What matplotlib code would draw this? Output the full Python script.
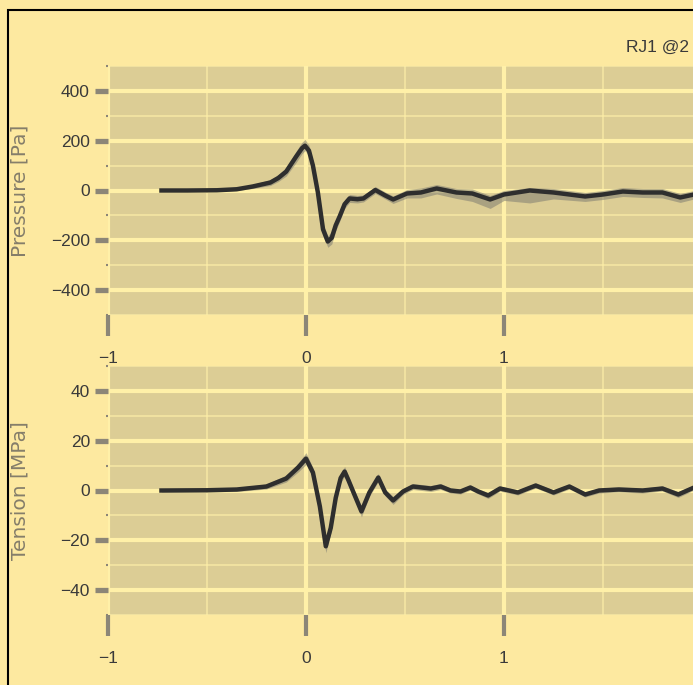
import matplotlib
matplotlib.use('Agg')
import matplotlib.pyplot as plt
from matplotlib.patches import Rectangle
from matplotlib.ticker import MultipleLocator, FixedLocator

FIG_BG = '#fde9a0'
AX_BG = '#dccd95'
GRID = '#fff0a8'
TICK = '#8c8677'
LABEL = '#857e6a'
TEXT = '#3a3a3a'
NARROW = ['Liberation Sans', 'DejaVu Sans']

# pressure trace (mean) and spread of the individual runs, time in s
p_time = [-0.73, -0.6, -0.45, -0.35, -0.27, -0.18, -0.14, -0.10, -0.05, -0.02, -0.005,
          0.015, 0.035, 0.06, 0.086, 0.11, 0.13, 0.15, 0.17, 0.195, 0.22, 0.26, 0.29,
          0.35, 0.40, 0.44, 0.51, 0.58, 0.66, 0.76, 0.84, 0.93, 1.0, 1.13, 1.25,
          1.41, 1.5, 1.6, 1.7, 1.8, 1.89, 1.96, 2.1]
p_mean = [0, 0, 1, 5, 16, 32, 50, 76, 136, 170, 180,
          160, 100, -8, -156, -205, -190, -140, -104, -55, -32, -35, -32,
          2, -20, -36, -12, -8, 8, -8, -12, -36, -16, 0, -8,
          -24, -16, -4, -8, -8, -28, -16, -10]
p_low = [-4, -4, -4, 0, 8, 20, 36, 58, 112, 148, 160,
         140, 80, -30, -180, -228, -215, -162, -124, -72, -48, -50, -46,
         -12, -34, -52, -30, -30, -14, -32, -44, -72, -40, -50, -34,
         -44, -36, -24, -28, -30, -48, -34, -28]
p_high = [4, 4, 6, 10, 24, 44, 64, 92, 158, 194, 205,
          182, 120, 14, -132, -182, -165, -118, -84, -38, -16, -20, -18,
          16, -6, -22, 4, 10, 24, 8, 6, -20, 0, 12, 8,
          -8, 0, 12, 8, 8, -12, 0, 6]

# tension trace (mean) and spread of the individual runs
t_time = [-0.73, -0.5, -0.35, -0.2, -0.10, -0.04, 0.0, 0.035, 0.07, 0.10, 0.125,
          0.15, 0.175, 0.195, 0.215, 0.24, 0.28, 0.32, 0.365, 0.40, 0.44, 0.49,
          0.54, 0.63, 0.68, 0.73, 0.78, 0.83, 0.87, 0.92, 0.98, 1.07, 1.16, 1.25,
          1.33, 1.41, 1.48, 1.58, 1.70, 1.80, 1.88, 1.96, 2.1]
t_mean = [0, 0.1, 0.4, 1.6, 4.8, 9.2, 12.8, 7.2, -6.4, -22.4, -15,
          -3, 5, 7.6, 4, -0.8, -8.4, -0.8, 5.2, -0.8, -4, -0.4,
          1.6, 0.8, 1.6, 0, -0.4, 1.2, -0.4, -2, 0.8, -0.8, 2, -0.8,
          1.6, -1.6, 0, 0.4, 0, 0.8, -1.6, 1.2, 0]
t_spread = [0.6, 0.6, 0.8, 1.0, 1.4, 1.8, 2.4, 2.0, 2.0, 2.6, 2.2,
            2.0, 1.8, 2.0, 1.8, 1.6, 2.2, 1.6, 1.6, 1.4, 1.6, 1.2,
            1.2, 1.2, 1.2, 1.0, 1.0, 1.0, 1.0, 1.2, 1.0, 1.0, 1.0, 1.0,
            1.0, 1.0, 1.0, 1.0, 1.0, 1.0, 1.2, 1.0, 1.0]

x_ticks = [-1, 0, 1]

W, H = 693, 685


def style_axes(ax, ymajor, yminor, ylim, ylabel):
    ax.set_facecolor(AX_BG)
    ax.set_xlim(-1, 3)
    ax.set_ylim(*ylim)
    ax.xaxis.set_major_locator(FixedLocator(x_ticks))
    ax.xaxis.set_minor_locator(FixedLocator([-0.5, 0.5, 1.5, 2, 2.5]))
    ax.yaxis.set_major_locator(MultipleLocator(ymajor))
    ax.yaxis.set_minor_locator(MultipleLocator(yminor))
    ax.set_axisbelow(True)
    ax.grid(which='major', color=GRID, lw=3)
    ax.grid(which='minor', color=GRID, lw=1.2, alpha=0.7)
    for s in ax.spines.values():
        s.set_visible(False)
    ax.tick_params(axis='y', which='major', length=9.5, width=3.8, color=TICK,
                   pad=3.5, labelsize=12.5, labelcolor=TEXT)
    ax.tick_params(axis='y', which='minor', length=1.5, width=1.5, color=TICK)
    ax.tick_params(axis='x', which='major', length=15, width=3, color=TICK,
                   pad=11, labelsize=12.5, labelcolor=TEXT)
    ax.tick_params(axis='x', which='minor', length=0)
    for lab in ax.get_xticklabels() + ax.get_yticklabels():
        lab.set_family(NARROW)
    ax.set_ylabel(ylabel, color=LABEL, fontsize=14.5)
    ax.yaxis.set_label_coords(-(108 - 30) / 792, 0.5)


fig = plt.figure(figsize=(W / 100, H / 100), dpi=100)
fig.patch.set_facecolor(FIG_BG)

ax1 = fig.add_axes([108 / W, (H - 315) / H, 792 / W, 249 / H])
ax2 = fig.add_axes([108 / W, (H - 615) / H, 792 / W, 249 / H])

ax1.fill_between(p_time, p_low, p_high, color='#77766f', alpha=0.5, lw=0)
ax1.plot(p_time, p_mean, color='#2e2e2e', lw=3.2, solid_joinstyle='round')
style_axes(ax1, 200, 100, (-500, 500), 'Pressure [Pa]')

t_low = [m - s for m, s in zip(t_mean, t_spread)]
t_high = [m + s for m, s in zip(t_mean, t_spread)]
ax2.fill_between(t_time, t_low, t_high, color='#77766f', alpha=0.5, lw=0)
ax2.plot(t_time, t_mean, color='#2e2e2e', lw=3.2, solid_joinstyle='round')
style_axes(ax2, 20, 10, (-50, 50), 'Tension [MPa]')

fig.text(626 / W, 1 - 47 / H, 'RJ1 @2', ha='left', va='center', fontsize=12.5,
         color=TEXT, family=NARROW)

fig.add_artist(Rectangle((8 / W, -0.2), 2, 1.2 - 10 / H, fill=False,
                         ec='black', lw=1.5, transform=fig.transFigure))

fig.savefig('out.png', dpi=100, facecolor=FIG_BG)
